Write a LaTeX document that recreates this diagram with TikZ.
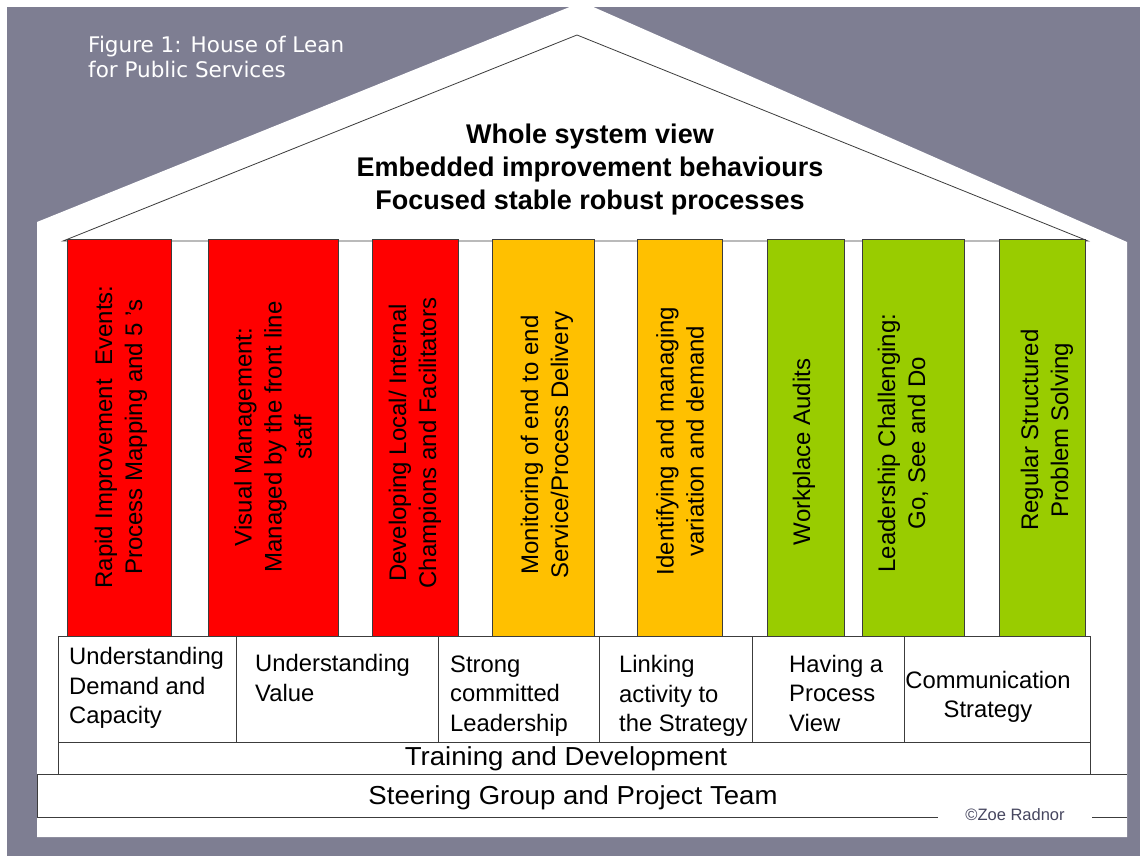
\documentclass[tikz,border=0pt]{standalone}
\usepackage{fontspec}
\setmainfont{Liberation Sans}
\newfontfamily\capfont{DejaVu Sans}
\newfontfamily\rowfont[FakeStretch=1.06]{Liberation Sans}
\definecolor{bggrey}{RGB}{126,126,146}
\definecolor{linec}{RGB}{60,60,60}
\definecolor{pred}{RGB}{255,0,0}
\definecolor{porange}{RGB}{255,192,0}
\definecolor{pgreen}{RGB}{153,204,0}
\definecolor{copyc}{RGB}{70,70,95}
\tikzset{
  pillar/.style={draw=linec, line width=0.9pt},
  frame/.style={draw=linec, line width=0.9pt},
  coltext/.style={rotate=90, align=center, inner sep=0pt, font=\fontsize{24}{30}\selectfont},
  basetext/.style={align=left, anchor=west, inner sep=0pt, font=\fontsize{23.8}{29.5}\selectfont},
  rowtext/.style={anchor=base, inner sep=0pt, font=\rowfont\fontsize{26}{30}\selectfont},
}
\begin{document}
\begin{tikzpicture}[x=1pt,y=-1pt]
\useasboundingbox (0,0) rectangle (1140,856);
% background
\fill[white] (0,0) rectangle (1140,856);
\fill[bggrey] (7,7) rectangle (1140,856);
% house
\fill[white] (37,222) -- (582,2) -- (1127,242) -- (1127,837) -- (37,837) -- cycle;
% caption
\node[anchor=base west, align=left, inner sep=0pt, text=white,
      font=\capfont\fontsize{21.5}{25}\selectfont] (caption) at (88,78)
  {Figure 1: House of Lean\\for Public Services};
% inner roof
\draw[frame, line width=0.8pt] (63,241) -- (577,35) -- (1088,241) -- cycle;
% title
\node[align=center, inner sep=0pt, font=\bfseries\fontsize{27}{33}\selectfont] (title) at (590,169.5)
  {Whole system view\\Embedded improvement behaviours\\Focused stable robust processes};
% pillars
\filldraw[pillar, fill=pred]    (67,239) rectangle (171,636);
\filldraw[pillar, fill=pred]    (208,239) rectangle (338,636);
\filldraw[pillar, fill=pred]    (372,239) rectangle (458,636);
\filldraw[pillar, fill=porange] (492,239) rectangle (594,636);
\filldraw[pillar, fill=porange] (637,239) rectangle (722,636);
\filldraw[pillar, fill=pgreen]  (767,239) rectangle (844,636);
\filldraw[pillar, fill=pgreen]  (862,239) rectangle (964,636);
\filldraw[pillar, fill=pgreen]  (999,239) rectangle (1085,636);
% pillar texts
\node[coltext] (c1) at (121,437) {Rapid Improvement\ \ Events:\\Process Mapping and 5 's};
\node[coltext] (c2) at (273,437) {Visual Management:\\Managed by the front line\\staff};
\node[coltext] (c3) at (415,443) {Developing Local/ Internal\\Champions and Facilitators};
\node[coltext] (c4) at (547,445) {Monitoring of end to end\\Service/Process Delivery};
\node[coltext] (c5) at (680,441) {Identifying and managing\\variation and demand};
\node[coltext] (c6) at (804,452) {Workplace Audits};
\node[coltext] (c7) at (903,443) {Leadership Challenging:\\Go, See and Do};
\node[coltext] (c8) at (1047,430) {Regular Structured\\Problem Solving};
% base boxes
\draw[frame] (58,636) rectangle (1090,774);
\draw[frame] (58,742) -- (1090,742);
\foreach \xx in {236,438,599,752,904} \draw[frame] (\xx,636) -- (\xx,742);
\node[basetext] (b1) at (69,688) {Understanding\\Demand and\\Capacity};
\node[basetext] (b2) at (255,678) {Understanding\\Value};
\node[basetext] (b3) at (450,696) {Strong\\committed\\Leadership};
\node[basetext] (b4) at (619,696) {Linking\\activity to\\the Strategy};
\node[basetext] (b5) at (789,693) {Having a\\Process\\View};
\node[basetext, align=center, anchor=center] (b6) at (988,697) {Communication\\Strategy};
% training and steering
\node[rowtext] (train) at (566,765) {Training and Development};
\draw[frame] (37,774) -- (1127,774);
\draw[frame] (37,774) -- (37,817) -- (938,817);
\draw[frame] (1092,817) -- (1127,817);
\node[rowtext] (steer) at (573,804) {Steering Group and Project Team};
\node[inner sep=0pt, text=copyc, font=\fontsize{16.5}{18}\selectfont] (copy) at (1015,815) {©Zoe Radnor};
\end{tikzpicture}
\end{document}
